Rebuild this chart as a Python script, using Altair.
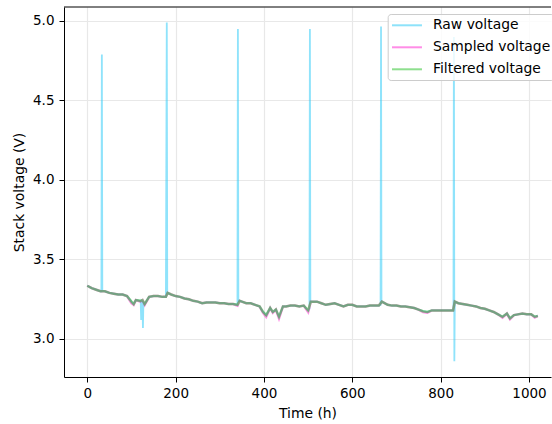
import altair as alt
import pandas as pd

# ---------------- data ----------------
time_h = [0, 10, 20, 30, 40, 50, 60, 70, 80, 90, 100, 105, 110, 120, 125, 130,
          140, 150, 160, 170, 178, 182, 190, 200, 210, 220, 230, 240, 250, 260,
          270, 280, 290, 300, 310, 320, 330, 340, 345, 350, 360, 370, 380, 390,
          398, 405, 414, 420, 427, 434, 443, 450, 460, 470, 480, 490, 500, 506,
          520, 530, 540, 550, 560, 570, 580, 590, 600, 610, 620, 630, 640, 650,
          660, 667, 680, 690, 700, 710, 720, 730, 740, 750, 760, 770, 780, 790,
          800, 810, 820, 828, 832, 840, 850, 860, 870, 880, 890, 900, 910, 920,
          930, 940, 950, 957, 966, 975, 985, 995, 1005, 1013, 1020]

filtered_v = [3.335, 3.32, 3.31, 3.30, 3.30, 3.29, 3.285, 3.28, 3.28, 3.27, 3.235,
              3.22, 3.245, 3.24, 3.245, 3.22, 3.265, 3.27, 3.27, 3.265, 3.265, 3.29,
              3.28, 3.27, 3.265, 3.255, 3.25, 3.24, 3.235, 3.225, 3.23, 3.23, 3.23,
              3.225, 3.225, 3.22, 3.22, 3.215, 3.24, 3.235, 3.225, 3.225, 3.215,
              3.205, 3.17, 3.15, 3.195, 3.17, 3.185, 3.14, 3.205, 3.205, 3.21, 3.21,
              3.205, 3.21, 3.18, 3.235, 3.235, 3.225, 3.215, 3.22, 3.225, 3.215,
              3.205, 3.215, 3.215, 3.205, 3.205, 3.205, 3.21, 3.21, 3.21, 3.235,
              3.215, 3.21, 3.21, 3.205, 3.205, 3.20, 3.195, 3.185, 3.175, 3.17,
              3.18, 3.18, 3.18, 3.18, 3.18, 3.18, 3.235, 3.225, 3.22, 3.215, 3.21,
              3.205, 3.195, 3.19, 3.18, 3.17, 3.155, 3.14, 3.16, 3.13, 3.15, 3.155,
              3.16, 3.155, 3.155, 3.14, 3.145]

sampled_v = [3.335, 3.32, 3.31, 3.30, 3.30, 3.29, 3.285, 3.28, 3.28, 3.27, 3.225,
             3.215, 3.245, 3.235, 3.245, 3.215, 3.265, 3.27, 3.27, 3.265, 3.265, 3.29,
             3.28, 3.27, 3.265, 3.255, 3.25, 3.24, 3.235, 3.225, 3.23, 3.23, 3.23,
             3.225, 3.225, 3.22, 3.22, 3.21, 3.24, 3.235, 3.225, 3.225, 3.215,
             3.205, 3.165, 3.14, 3.195, 3.165, 3.185, 3.13, 3.205, 3.205, 3.21, 3.21,
             3.205, 3.21, 3.17, 3.235, 3.235, 3.225, 3.215, 3.22, 3.225, 3.215,
             3.205, 3.215, 3.215, 3.205, 3.205, 3.205, 3.21, 3.21, 3.21, 3.235,
             3.215, 3.21, 3.21, 3.205, 3.205, 3.20, 3.195, 3.185, 3.17, 3.165,
             3.18, 3.18, 3.18, 3.18, 3.18, 3.18, 3.235, 3.225, 3.22, 3.215, 3.21,
             3.205, 3.195, 3.19, 3.18, 3.17, 3.155, 3.135, 3.16, 3.125, 3.15, 3.155,
             3.16, 3.155, 3.155, 3.135, 3.145]

raw_time = [0, 10, 20, 30, 32, 33, 34, 40, 50, 60, 70, 80, 90, 100, 105, 110, 120,
            121, 122, 123, 125, 126, 127, 130, 140, 150, 160, 170, 178, 180, 181,
            182, 190, 200, 210, 220, 230, 240, 250, 260, 270, 280, 290, 300, 310,
            320, 330, 340, 341, 342, 345, 350, 360, 370, 380, 390, 398, 405, 414,
            420, 427, 434, 443, 450, 460, 470, 480, 490, 500, 503, 504, 505, 506,
            520, 530, 540, 550, 560, 570, 580, 590, 600, 610, 620, 630, 640, 650,
            660, 664, 665, 666, 667, 680, 690, 700, 710, 720, 730, 740, 750, 760,
            770, 780, 790, 800, 810, 820, 828, 829, 830, 831, 832, 840, 850, 860,
            870, 880, 890, 900, 910, 920, 930, 940, 950, 957, 966, 975, 985, 995,
            1005, 1013, 1020]

raw_v = [3.335, 3.32, 3.31, 3.30, 3.30, 4.79, 3.305, 3.30, 3.29, 3.285, 3.28, 3.28,
         3.27, 3.235, 3.22, 3.245, 3.24, 3.235, 3.12, 3.24, 3.235, 3.07, 3.23, 3.22,
         3.265, 3.27, 3.27, 3.265, 3.265, 4.99, 3.285, 3.29, 3.28, 3.27, 3.265,
         3.255, 3.25, 3.24, 3.235, 3.225, 3.23, 3.23, 3.23, 3.225, 3.225, 3.22,
         3.22, 3.215, 4.95, 3.235, 3.24, 3.235, 3.225, 3.225, 3.215, 3.205, 3.17,
         3.15, 3.195, 3.17, 3.185, 3.14, 3.205, 3.205, 3.21, 3.21, 3.205, 3.21,
         3.18, 3.19, 4.95, 3.23, 3.235, 3.235, 3.225, 3.215, 3.22, 3.225, 3.215,
         3.205, 3.215, 3.215, 3.205, 3.205, 3.205, 3.21, 3.21, 3.21, 3.215, 4.965,
         3.23, 3.235, 3.215, 3.21, 3.21, 3.205, 3.205, 3.20, 3.195, 3.185, 3.175,
         3.17, 3.18, 3.18, 3.18, 3.18, 3.18, 3.18, 3.18, 4.90, 2.86, 3.235, 3.225,
         3.22, 3.215, 3.21, 3.205, 3.195, 3.19, 3.18, 3.17, 3.155, 3.14, 3.16,
         3.13, 3.15, 3.155, 3.16, 3.155, 3.155, 3.14, 3.145]

series_names = ["Raw voltage", "Sampled voltage", "Filtered voltage"]
series_colors = ["#1fc7f7", "#ff1dd1", "#1fc11f"]

x_ticks = [0, 200, 400, 600, 800, 1000]
y_ticks = [3.0, 3.5, 4.0, 4.5, 5.0]

# ---------------- tables ----------------
raw_df = pd.DataFrame({"t": raw_time, "v": raw_v, "s": series_names[0]})
samp_df = pd.DataFrame({"t": time_h, "v": sampled_v, "s": series_names[1]})
filt_df = pd.DataFrame({"t": time_h, "v": filtered_v, "s": series_names[2]})

FONT = "DejaVu Sans"
W, H = 487, 370

x_enc = alt.X(
    "t:Q",
    scale=alt.Scale(domain=[-52.7, 1049.8], nice=False, zero=False),
    axis=alt.Axis(
        values=x_ticks, format="d", title="Time (h)",
        titleY=40, titleBaseline="alphabetic",
    ),
)
y_enc = alt.Y(
    "v:Q",
    scale=alt.Scale(domain=[2.761, 5.088], nice=False, zero=False),
    axis=alt.Axis(
        values=y_ticks, format=".1f", title="Stack voltage (V)",
        titleX=-41, titleY=185, titleAngle=270, titleBaseline="alphabetic",
        titleAlign="center",
    ),
)
color_enc = alt.Color(
    "s:N",
    scale=alt.Scale(domain=series_names, range=series_colors),
    sort=series_names,
    legend=alt.Legend(title=None),
)


def line_layer(df, width):
    return alt.Chart(df).mark_line(strokeWidth=width, opacity=0.5, clip=True).encode(
        x=x_enc, y=y_enc, color=color_enc, order=alt.Order("t:Q")
    )


top_border = alt.Chart(alt.Data(values=[{}])).mark_rule(
    color="black", strokeWidth=1
).encode(x=alt.value(0), x2=alt.value(W), y=alt.value(0))

chart = alt.layer(
    line_layer(raw_df, 1.8), line_layer(samp_df, 2.5), line_layer(filt_df, 2.5),
    top_border
).properties(
    width=W, height=H,
    autosize=alt.AutoSizeParams(type="none"),
    padding={"left": 64, "top": 7, "right": 1, "bottom": 47},
).configure_view(
    stroke=None
).configure_axis(
    labelFont=FONT, titleFont=FONT, labelFontSize=13.5, titleFontSize=13.9,
    labelColor="black", titleColor="black", titleFontWeight="normal",
    domainColor="black", domainWidth=1, tickColor="black", tickWidth=1,
    tickSize=5, labelPadding=4, gridColor="#e8e8e8", gridWidth=1.2,
).configure_axisY(
    labelPadding=5
).configure_legend(
    orient="none", legendX=323.7, legendY=7,
    fillColor="rgba(255,255,255,0.8)", strokeColor="#cccccc", cornerRadius=3,
    padding=3.3, rowPadding=7, labelFont=FONT, labelFontSize=13.9,
    labelColor="black", labelOffset=26, symbolType="M-1,0H3.28",
    symbolSize=196, symbolStrokeWidth=2, symbolOpacity=0.5,
)

chart.save("out.html", embed_options={"renderer": "svg", "actions": False})
